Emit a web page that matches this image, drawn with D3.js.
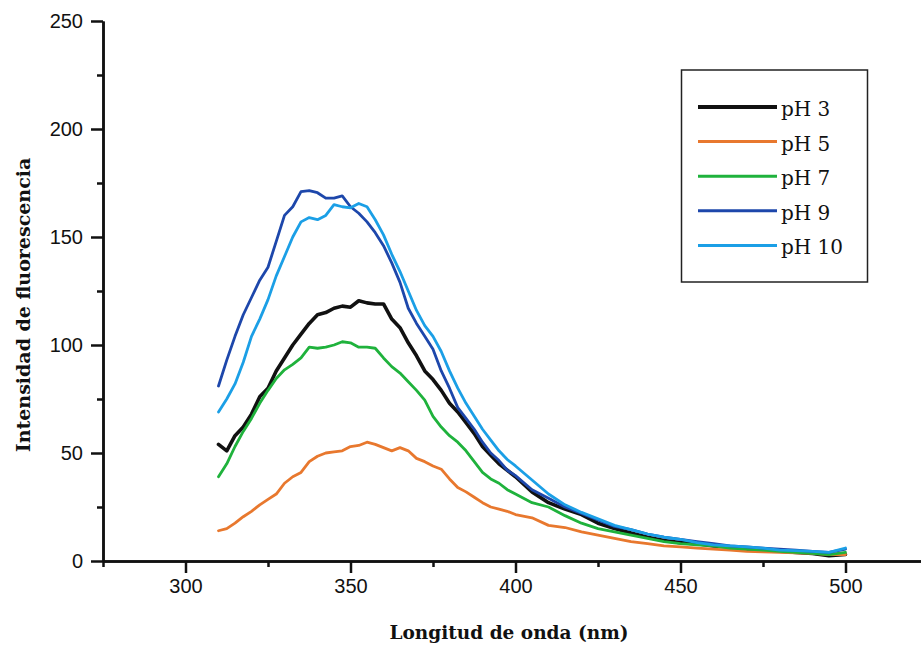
<!DOCTYPE html>
<html>
<head>
<meta charset="utf-8">
<script src="https://cdn.jsdelivr.net/npm/d3@7"></script>
<style>
  body { margin: 0; background: #fff; }
</style>
</head>
<body>
<div id="chart"></div>
<script>
// wavelengths (nm) shared by every series
var wavelength = [310, 312.5, 315, 317.5, 320, 322.5, 325, 327.5, 330, 332.5, 335, 337.5, 340, 342.5, 345, 347.5,
  350, 352.5, 355, 357.5, 360, 362.5, 365, 367.5, 370, 372.5, 375, 377.5, 380, 382.5, 385, 387.5, 390, 392.5,
  395, 397.5, 400, 405, 410, 415, 420, 425, 430, 435, 440, 445, 450, 455, 460, 465, 470, 475, 480, 485, 490, 495, 500];

var ph3 = [54, 51, 58, 62, 68, 76, 80, 88, 94, 100, 105, 110, 114, 115, 117, 118,
  117.5, 120.5, 119.5, 119, 119, 112, 108, 101, 95, 88, 84, 79, 73, 69, 64, 59, 53, 49,
  45, 42, 39, 32, 27, 24, 21.5, 17.5, 15, 13, 11, 9.5, 8.5, 8, 7, 6.5, 5.5, 5, 4.5, 4, 3.5, 2.5, 3];

var ph5 = [14, 15, 17.5, 20.5, 23, 26, 28.5, 31, 36, 39, 41, 46, 48.5, 50, 50.5, 51,
  53, 53.5, 55, 54, 52.5, 51, 52.5, 51, 47.5, 46, 44, 42.5, 38, 34, 32, 29.5, 27, 25,
  24, 23, 21.5, 20, 16.5, 15.5, 13.5, 12, 10.5, 9, 8, 7, 6.5, 6, 5.5, 5, 4.5, 4.2, 4, 3.8, 3.5, 3, 3];

var ph7 = [39, 45, 53, 60, 66, 73, 79, 84.5, 88.5, 91, 94, 99, 98.5, 99, 100, 101.5,
  101, 99, 99, 98.5, 94, 90, 87, 83, 79, 74.5, 67, 62, 58, 55, 51, 46, 41, 38,
  36, 33, 31, 27, 25, 21, 17.5, 15, 13.5, 12, 10.5, 9, 8, 7.5, 7, 6, 5.5, 5, 4.5, 4, 3.5, 3, 4];

var ph9 = [81, 93, 104, 114, 122, 130, 136, 148, 160, 164, 171, 171.5, 170.5, 168, 168, 169,
  164, 161, 157, 152, 146, 138, 129, 117, 110, 104, 98, 88, 80, 71, 66, 61, 55, 50,
  46.5, 42, 39.5, 33, 29, 25, 22, 19, 16, 14.5, 12.5, 11, 10, 9, 8, 7, 6.5, 6, 5.5, 5, 4.5, 4, 5.5];

var ph10 = [69, 75, 82, 92, 104, 112, 121, 132, 141, 150, 157, 159, 158, 160, 165, 164,
  163.5, 165.5, 164, 158, 151, 142, 134, 125, 116, 109, 104, 97, 88, 80, 73, 67, 61, 56,
  51, 47, 44, 37.5, 31, 26, 22.5, 19.5, 16.5, 14.5, 12.5, 11, 10, 8.5, 7.5, 7, 6.5, 6, 5, 4.8, 4.5, 4, 6];

var seriesNames = ["pH 3", "pH 5", "pH 7", "pH 9", "pH 10"];
var seriesValues = [ph3, ph5, ph7, ph9, ph10];
var seriesColors = ["#111111", "#e8782e", "#1fb23c", "#1d47ab", "#1b9fe6"];
var seriesWidths = [3.6, 2.8, 2.8, 2.8, 2.8];

var xMajorTicks = [300, 350, 400, 450, 500];
var xMinorTicks = [275, 325, 375, 425, 475];
var yMajorTicks = [0, 50, 100, 150, 200, 250];
var yMinorTicks = [25, 75, 125, 175, 225];

var width = 921, height = 648;

var svg = d3.select("#chart").append("svg")
    .attr("width", width)
    .attr("height", height);

var x = d3.scaleLinear().domain([275, 525]).range([103, 928]);
var y = d3.scaleLinear().domain([0, 250]).range([561, 21]);

// minor ticks first, then the labelled axes on top
svg.append("g")
    .attr("transform", "translate(0," + y(0) + ")")
    .call(d3.axisBottom(x).tickValues(xMinorTicks).tickSize(6).tickSizeOuter(0).tickFormat(""));
svg.append("g")
    .attr("transform", "translate(" + x(275) + ",0)")
    .call(d3.axisLeft(y).tickValues(yMinorTicks).tickSize(6).tickSizeOuter(0).tickFormat(""));

svg.append("g")
    .attr("transform", "translate(0," + y(0) + ")")
    .call(d3.axisBottom(x).tickValues(xMajorTicks).tickSize(12).tickPadding(6).tickSizeOuter(0));
svg.append("g")
    .attr("transform", "translate(" + x(275) + ",0)")
    .call(d3.axisLeft(y).tickValues(yMajorTicks).tickSize(12).tickPadding(8).tickSizeOuter(0));

svg.selectAll(".domain, .tick line")
    .attr("stroke", "#111")
    .attr("stroke-width", 2.5);

svg.selectAll(".tick text")
    .attr("fill", "#111")
    .style("font-family", "'Liberation Sans', Arial, sans-serif")
    .style("font-size", "20px");

// curves
var line = d3.line()
    .x(function (d) { return x(d.wl); })
    .y(function (d) { return y(d.v); });

seriesValues.forEach(function (vals, i) {
    var pts = wavelength.map(function (wl, j) { return { wl: wl, v: vals[j] }; });
    svg.append("path")
        .datum(pts)
        .attr("fill", "none")
        .attr("stroke", seriesColors[i])
        .attr("stroke-width", seriesWidths[i])
        .attr("stroke-linejoin", "round")
        .attr("stroke-linecap", "round")
        .attr("d", line);
});

// axis titles
svg.append("text")
    .attr("x", 509)
    .attr("y", 639)
    .attr("text-anchor", "middle")
    .style("font-family", "'DejaVu Serif', serif")
    .style("font-weight", "bold")
    .style("font-size", "18.5px")
    .style("fill", "#111")
    .text("Longitud de onda (nm)");

svg.append("text")
    .attr("transform", "translate(30,305) rotate(-90)")
    .attr("text-anchor", "middle")
    .style("font-family", "'DejaVu Serif', serif")
    .style("font-weight", "bold")
    .style("font-size", "19px")
    .style("fill", "#111")
    .text("Intensidad de fluorescencia");

// legend
var legend = svg.append("g");
legend.append("rect")
    .attr("x", 681.5).attr("y", 70)
    .attr("width", 186).attr("height", 212)
    .attr("fill", "#fff")
    .attr("stroke", "#222")
    .attr("stroke-width", 1.5);

seriesNames.forEach(function (name, i) {
    var ly = 107 + i * 34.6;
    legend.append("line")
        .attr("x1", 698).attr("x2", 777)
        .attr("y1", ly).attr("y2", ly)
        .attr("stroke", seriesColors[i])
        .attr("stroke-width", i === 0 ? 4 : 3);
    legend.append("text")
        .attr("x", 781)
        .attr("y", ly + 9)
        .style("font-family", "'DejaVu Serif', serif")
        .style("font-size", "20px")
        .style("fill", "#111")
        .text(name);
});
</script>
</body>
</html>
